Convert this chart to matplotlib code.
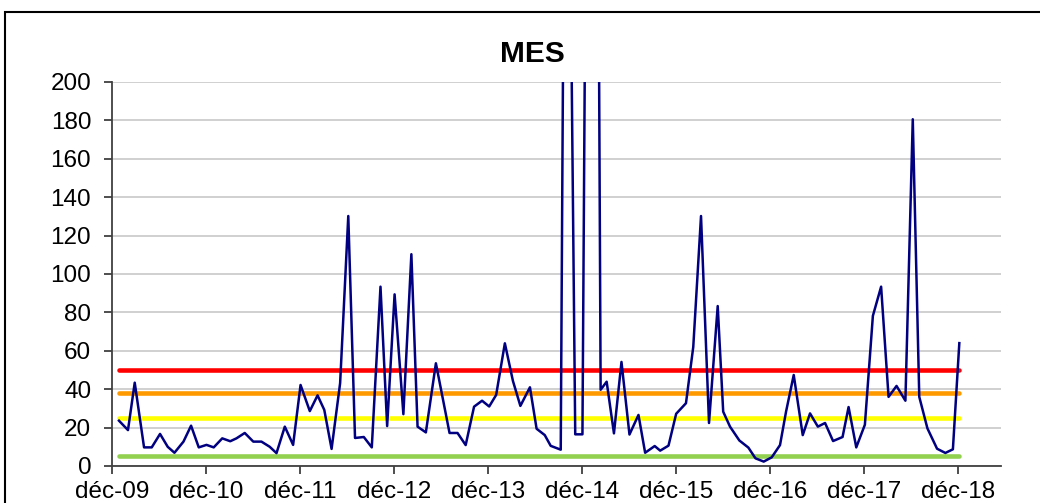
import matplotlib
matplotlib.use("Agg")
import matplotlib.pyplot as plt
from matplotlib.patches import Rectangle

plt.rcParams['font.family'] = ['Liberation Sans', 'DejaVu Sans']

# months elapsed since Dec 2009 (sample dates) and MES values
months = [0.89, 2.04, 2.90, 4.09, 5.07, 6.13, 7.11, 7.97, 9.12, 10.09, 11.07, 12.06,
          12.98, 14.07, 15.09, 15.88, 16.94, 18.03, 19.07, 20.13, 20.99, 22.05, 23.11, 24.06,
          25.24, 26.23, 27.09, 28.02, 29.11, 30.15, 31.01, 32.13, 33.15, 34.26, 35.11, 36.06,
          37.18, 38.20, 38.99, 40.05, 41.33, 43.07, 44.09, 45.13, 46.20, 47.22, 48.13,
          49.02, 50.13, 51.16, 52.11, 53.33, 54.18, 55.22, 55.98, 57.26, 57.96, 59.11, 60.03,
          61.37, 62.35, 63.12, 64.05, 65.01, 66.03, 67.18, 68.03, 69.25, 69.95, 71.01, 71.99,
          73.24, 74.17, 75.16, 76.18, 77.29, 77.99, 78.86, 80.05, 81.20, 82.11, 83.16, 84.18,
          85.24, 86.01, 86.99, 88.14, 89.07, 90.07, 90.99, 92.01, 93.22, 93.99, 94.97, 96.07,
          97.09, 98.14, 99.09, 100.11, 101.24, 102.18, 103.01, 104.05, 105.28, 106.34, 107.30,
          108.12]
mes = [23.6, 18.7, 43.4, 9.7, 9.7, 16.7, 10.0, 6.9, 12.7, 21.0, 9.7, 11.0,
       9.7, 14.4, 12.9, 14.4, 17.2, 12.7, 12.7, 10.0, 6.7, 20.5, 11.0, 42.2,
       28.6, 36.8, 29.2, 8.9, 43.2, 130.2, 14.6, 15.1, 9.7, 93.4, 20.8, 89.4,
       27.0, 110.3, 20.5, 17.5, 53.5, 17.2, 17.2, 10.9, 30.9, 34.0, 31.0,
       37.0, 63.9, 44.3, 31.3, 41.0, 19.4, 16.1, 10.5, 8.5, 490.0, 16.5, 16.5,
       870.0, 39.7, 43.9, 17.0, 54.2, 16.4, 26.6, 6.9, 10.4, 8.0, 10.6, 27.2,
       32.7, 62.0, 130.2, 22.4, 83.3, 28.3, 20.5, 13.3, 9.6, 4.0, 2.3, 4.5,
       10.9, 28.3, 47.4, 16.1, 27.4, 20.5, 22.4, 13.0, 15.1, 30.7, 9.7, 21.5,
       78.2, 93.4, 36.0, 41.7, 34.0, 180.6, 36.0, 19.6, 9.0, 6.8, 8.7,
       64.0]

thresholds = [50, 38, 25, 5]
threshold_colors = ['#FF0000', '#FF9900', '#FFFF00', '#92D050']

tick_months = [0, 12, 24, 36, 48, 60, 72, 84, 96, 108]
tick_labels = ['déc-09', 'déc-10', 'déc-11', 'déc-12', 'déc-13', 'déc-14',
               'déc-15', 'déc-16', 'déc-17', 'déc-18']

W, H = 1040, 503
fig = plt.figure(figsize=(W / 100, H / 100), dpi=100)
fig.patch.set_facecolor('white')
ax = fig.add_axes([112 / W, 1 - 466 / H, (1000.7 - 112) / W, 384 / H])

ax.set_ylim(0, 200)
ax.set_xlim(0, 113.4)
ax.set_yticks(range(0, 201, 20))
ax.yaxis.grid(True, color='#c8c8c8', linewidth=1.2)
ax.set_axisbelow(True)

x0, x1 = months[0], months[-1]
for val, col in zip(thresholds, threshold_colors):
    ax.plot([x0, x1], [val, val], color=col, linewidth=3.3, solid_capstyle='round', zorder=2)

ax.plot(months, mes, color='#000080', linewidth=1.8, zorder=3)

ax.set_xticks(tick_months)
ax.set_xticklabels(tick_labels)
for s in ['top', 'right']:
    ax.spines[s].set_visible(False)
for s in ['left', 'bottom']:
    ax.spines[s].set_color('#404040')
    ax.spines[s].set_linewidth(1.3)
ax.tick_params(axis='both', colors='#404040', length=6, width=1.3, labelcolor='black', labelsize=17.5)
ax.tick_params(axis='y', pad=9)
ax.tick_params(axis='x', pad=5)

fig.text(532 / W, 1 - 54 / H, 'MES', fontsize=21.5, fontweight='bold', ha='center', va='center')

fig.patches.append(Rectangle((5 / W, -0.2), 2.0, 1 - 12 / H + 0.2, transform=fig.transFigure,
                             fill=False, edgecolor='black', linewidth=1.5))

fig.savefig('out.png', dpi=100)
